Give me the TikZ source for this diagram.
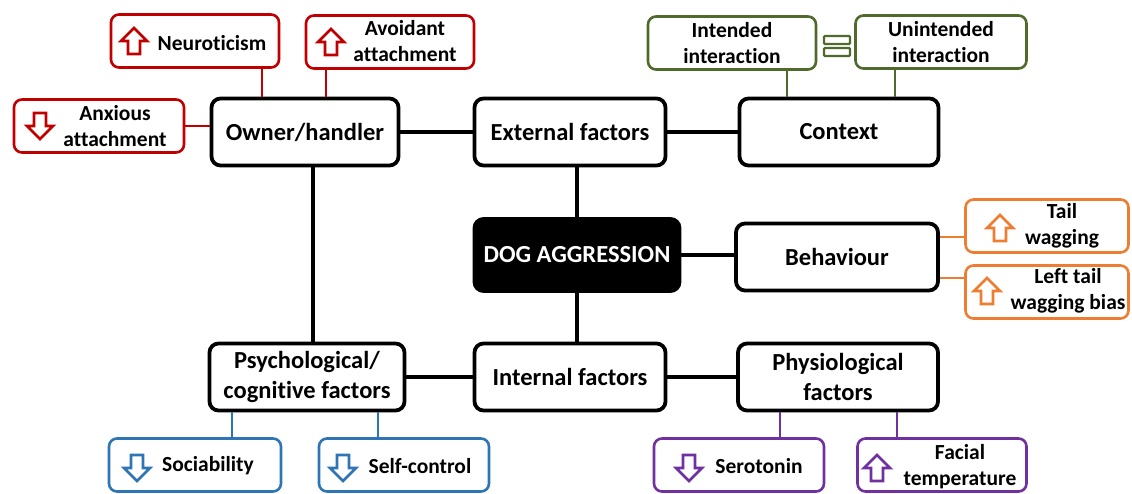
\documentclass[tikz,border=0pt]{standalone}
\usepackage{fontspec}
\setmainfont{Carlito}[Ligatures=NoCommon]
\usetikzlibrary{positioning}

\definecolor{ownred}{RGB}{192,0,0}
\definecolor{ctxgreen}{RGB}{80,106,44}
\definecolor{behorange}{RGB}{237,125,49}
\definecolor{psyblue}{RGB}{46,117,182}
\definecolor{phypurple}{RGB}{112,48,160}

\tikzset{
    mainbox/.style={draw, line width=3.8pt, rounded corners=9pt, minimum height=67pt,
        align=center, font=\fontsize{24.5}{30}\selectfont\bfseries},
    tagbox/.style={draw=#1, line width=2.6pt, rounded corners=8pt, minimum width=168pt,
        minimum height=53pt, align=center, font=\fontsize{21.5}{26}\selectfont\bfseries},
    tagtxt/.style={align=center, inner sep=0pt, font=\fontsize{21.5}{26}\selectfont\bfseries},
    link/.style={line width=3.8pt},
    taglink/.style={draw=#1, line width=2.6pt},
    pics/uparr/.style={code={
        \draw[#1, line width=2.8pt, fill=white]
            (0,-13) -- (13,0) -- (6,0) -- (6,13) -- (-6,13) -- (-6,0) -- (-13,0) -- cycle;}},
    pics/downarr/.style={code={
        \draw[#1, line width=2.8pt, fill=white]
            (0,13) -- (13,0) -- (6,0) -- (6,-13) -- (-6,-13) -- (-6,0) -- (-13,0) -- cycle;}},
}

\begin{document}
\begin{tikzpicture}[x=1pt, y=-1pt]
    \useasboundingbox (0,0) rectangle (1132,494);

    %%%% Main boxes =====================================
    \node[mainbox, minimum width=187pt] (owner) at (305,132) {Owner/handler};
    \node[mainbox, minimum width=191pt] (ext) at (570,132) {External factors};
    \node[mainbox, minimum width=199pt] (ctx) at (839,132) {Context};
    \node[mainbox, minimum width=205pt, minimum height=72pt, fill=black, text=white] (dog) at (577,255) {DOG AGGRESSION};
    \node[mainbox, minimum width=202pt] (beh) at (837,257) {Behaviour};
    \node[mainbox, minimum width=195pt] (psy) at (307,377) {Psychological/\\cognitive factors};
    \node[mainbox, minimum width=191pt] (int) at (570,377) {Internal factors};
    \node[mainbox, minimum width=200pt] (phy) at (838,377) {Physiological\\factors};

    % Links
    \coordinate (dogx) at (577,0);
    \coordinate (ownx) at (313,0);
    \coordinate (dogy) at (0,255);
    \draw[link] (owner) -- (ext);
    \draw[link] (ext) -- (ctx);
    \draw[link] (ext.south -| dogx) -- (dog.north -| dogx);
    \draw[link] (dog.south -| dogx) -- (int.north -| dogx);
    \draw[link] (dog.east |- dogy) -- (beh.west |- dogy);
    \draw[link] (owner.south -| ownx) -- (psy.north -| ownx);
    \draw[link] (psy) -- (int);
    \draw[link] (int) -- (phy);

    %%%% Owner/handler =================================
    \node[tagbox=ownred] (neuro) at (195,41) {};
    \node[tagtxt] (neurot) at (212,43) {Neuroticism};
    \pic at (134,41) {uparr=ownred};

    \node[tagbox=ownred] (avoid) at (390,42) {};
    \node[tagtxt] (avoidt) at (405,41) {Avoidant\\attachment};
    \pic at (331,42) {uparr=ownred};

    \node[tagbox=ownred, minimum width=170pt] (anx) at (99,126) {};
    \node[tagtxt] (anxt) at (115,126) {Anxious\\attachment};
    \pic at (40,126) {downarr=ownred};

    \coordinate (neurox) at (262,0);
    \coordinate (avoidx) at (326,0);
    \coordinate (anxy) at (0,126);
    \draw[taglink=ownred] (neuro.south -| neurox) -- (owner.north -| neurox);
    \draw[taglink=ownred] (avoid.south -| avoidx) -- (owner.north -| avoidx);
    \draw[taglink=ownred] (anx.east |- anxy) -- (owner.west |- anxy);

    %%%% Context ======================================
    \node[tagbox=ctxgreen] (intd) at (732,43) {Intended\\interaction};
    \node[tagbox=ctxgreen, minimum width=171pt] (unint) at (941,42) {Unintended\\interaction};
    \draw[ctxgreen, line width=2.2pt, fill=white, rounded corners=1pt] (824,36) rectangle (850,44);
    \draw[ctxgreen, line width=2.2pt, fill=white, rounded corners=1pt] (824,48) rectangle (850,56);

    \coordinate (intdx) at (787,0);
    \coordinate (unintx) at (895,0);
    \draw[taglink=ctxgreen] (intd.south -| intdx) -- (ctx.north -| intdx);
    \draw[taglink=ctxgreen] (unint.south -| unintx) -- (ctx.north -| unintx);

    %%%% Behaviour ====================================
    \node[tagbox=behorange, minimum width=163pt] (tail) at (1047,226) {};
    \node[tagtxt] (tailt) at (1062,226) {Tail\\wagging};
    \pic at (1000,228) {uparr=behorange};

    \node[tagbox=behorange, minimum width=163pt] (left) at (1047,292) {};
    \node[tagtxt] (leftt) at (1068,291) {Left tail\\wagging bias};
    \pic at (987,291) {uparr=behorange};

    \coordinate (taily) at (0,237);
    \coordinate (lefty) at (0,278);
    \draw[taglink=behorange] (beh.east |- taily) -- (tail.west |- taily);
    \draw[taglink=behorange] (beh.east |- lefty) -- (left.west |- lefty);

    %%%% Psychological/cognitive ======================
    \node[tagbox=psyblue, minimum width=172pt] (soc) at (195,465) {};
    \node[tagtxt] (soct) at (208,466) {Sociability};
    \pic at (137,468) {downarr=psyblue};

    \node[tagbox=psyblue, minimum width=170pt] (selfc) at (404,465) {};
    \node[tagtxt] (selfct) at (420,466) {Self-control};
    \pic at (343,468) {downarr=psyblue};

    \coordinate (socx) at (232,0);
    \coordinate (selfcx) at (378,0);
    \draw[taglink=psyblue] (psy.south -| socx) -- (soc.north -| socx);
    \draw[taglink=psyblue] (psy.south -| selfcx) -- (selfc.north -| selfcx);

    %%%% Physiological ================================
    \node[tagbox=phypurple, minimum width=170pt] (sero) at (739,465) {};
    \node[tagtxt] (serot) at (759,466) {Serotonin};
    \pic at (689,468) {downarr=phypurple};

    \node[tagbox=phypurple, minimum width=169pt] (facial) at (942,465) {};
    \node[tagtxt] (facialt) at (960,467) {Facial\\temperature};
    \pic at (877,468) {uparr=phypurple};

    \coordinate (serox) at (780,0);
    \coordinate (facialx) at (897,0);
    \draw[taglink=phypurple] (phy.south -| serox) -- (sero.north -| serox);
    \draw[taglink=phypurple] (phy.south -| facialx) -- (facial.north -| facialx);
\end{tikzpicture}
\end{document}
